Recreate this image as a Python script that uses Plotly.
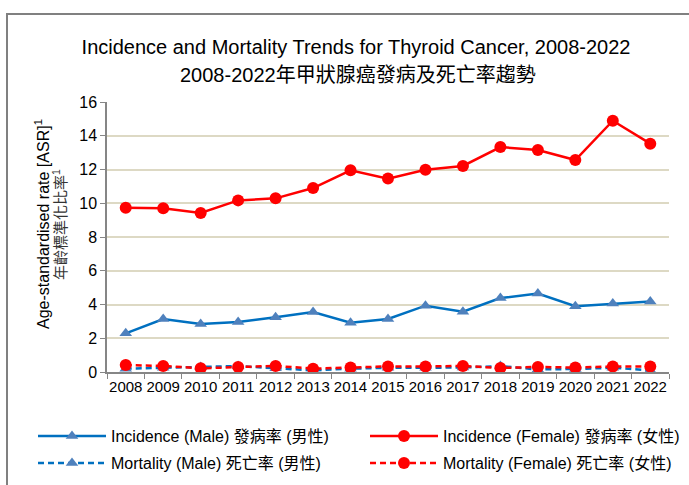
import plotly.graph_objects as go

years = [str(y) for y in range(2008, 2023)]
inc_male = [2.29, 3.14, 2.84, 2.96, 3.24, 3.55, 2.92, 3.14, 3.93, 3.57, 4.38, 4.65, 3.90, 4.06, 4.18]
inc_female = [9.74, 9.70, 9.42, 10.17, 10.29, 10.90, 11.95, 11.46, 11.99, 12.21, 13.33, 13.16, 12.56, 14.89, 13.53]
mort_male = [0.20, 0.25, 0.30, 0.35, 0.22, 0.10, 0.20, 0.25, 0.25, 0.27, 0.35, 0.15, 0.18, 0.25, 0.10]
mort_female = [0.41, 0.36, 0.22, 0.30, 0.36, 0.20, 0.26, 0.33, 0.33, 0.36, 0.24, 0.30, 0.26, 0.33, 0.33]

names = [
    "Incidence (Male) 發病率 (男性)",
    "Incidence (Female) 發病率 (女性)",
    "Mortality (Male) 死亡率 (男性)",
    "Mortality (Female) 死亡率 (女性)",
]

FONT = "Liberation Sans, Arial, Noto Sans CJK TC, sans-serif"
BLUE = "#0070C0"
BLUE_M = "#4F81BD"
RED = "#FF0000"

fig = go.Figure()
fig.add_trace(go.Scatter(x=years, y=inc_male, name=names[0], mode="lines+markers", legend="legend",
                         line=dict(color=BLUE, width=2.5),
                         marker=dict(symbol="triangle-up", size=11, color=BLUE_M)))
fig.add_trace(go.Scatter(x=years, y=inc_female, name=names[1], mode="lines+markers", legend="legend",
                         line=dict(color=RED, width=2.5),
                         marker=dict(symbol="circle", size=12, color=RED)))
fig.add_trace(go.Scatter(x=years, y=mort_male, name=names[2], mode="lines+markers", legend="legend2",
                         line=dict(color=BLUE, width=2.5, dash="6px,4px"),
                         marker=dict(symbol="triangle-up", size=11, color=BLUE_M)))
fig.add_trace(go.Scatter(x=years, y=mort_female, name=names[3], mode="lines+markers", legend="legend2",
                         line=dict(color=RED, width=2.5, dash="6px,4px"),
                         marker=dict(symbol="circle", size=12, color=RED)))

PH = 270.0
PW = 562.0
leg_common = dict(orientation="h", xanchor="left", yanchor="middle",
                  entrywidth=249, entrywidthmode="pixels", itemwidth=68,
                  font=dict(size=16), tracegroupgap=0, bgcolor="rgba(0,0,0,0)")

fig.update_layout(
    width=689, height=485,
    margin=dict(l=107, r=20, t=102, b=113, autoexpand=False),
    paper_bgcolor="white", plot_bgcolor="white",
    font=dict(family=FONT, size=16, color="black"),
    title=dict(text="Incidence and Mortality Trends for Thyroid Cancer, 2008-2022",
               x=356 / 689, xanchor="center", xref="container",
               y=1 - 47 / 485, yanchor="middle", yref="container",
               font=dict(size=20, color="black")),
    showlegend=True,
    legend=dict(x=(33 - 107) / PW, y=(372 - 436) / PH, **leg_common),
    legend2=dict(x=(33 - 107) / PW, y=(372 - 463) / PH, **leg_common),
    xaxis=dict(type="category", range=[-0.5, len(years) - 0.5], showgrid=False, showline=True,
               linecolor="#868686", linewidth=1.5,
               ticks="outside", tickson="boundaries", ticklen=5, tickcolor="#868686",
               tickangle=0, tickfont=dict(size=15), fixedrange=True),
    yaxis=dict(range=[0, 16], dtick=2, showgrid=True, gridcolor="#DDD9C4", gridwidth=2,
               showline=True, linecolor="#868686", linewidth=1.5,
               ticks="outside", ticklen=5, tickcolor="#868686",
               tickfont=dict(size=16), zeroline=False, fixedrange=True),
)

# second title line
fig.add_annotation(text="2008-2022年甲狀腺癌發病及死亡率趨勢", xref="paper", yref="paper",
                   x=(358 - 107) / PW, y=(372 - 75) / PH, xanchor="center", yanchor="middle",
                   showarrow=False, font=dict(size=20, color="black"))
# y axis title (two lines)
fig.add_annotation(text="Age-standardised rate [ASR]<sup>1</sup>", xref="paper", yref="paper",
                   x=(42 - 107) / PW, y=(372 - 224) / PH, xanchor="center", yanchor="middle",
                   textangle=-90, showarrow=False, font=dict(size=16, color="black"))
fig.add_annotation(text="年齡標準化比率<sup>1</sup>", xref="paper", yref="paper",
                   x=(59 - 107) / PW, y=(372 - 225) / PH, xanchor="center", yanchor="middle",
                   textangle=-90, showarrow=False, font=dict(size=15, color="#333333"))

# outer chart frame
fig.add_shape(type="rect", xref="paper", yref="paper",
              x0=(7 - 107) / PW, x1=1.2, y0=-0.6, y1=(372 - 14) / PH,
              line=dict(color="#808080", width=2), fillcolor="rgba(0,0,0,0)", layer="below")

fig.write_html("out.html", config={"displayModeBar": False},
               post_script="document.body.style.margin='0';document.body.style.overflow='hidden';")
